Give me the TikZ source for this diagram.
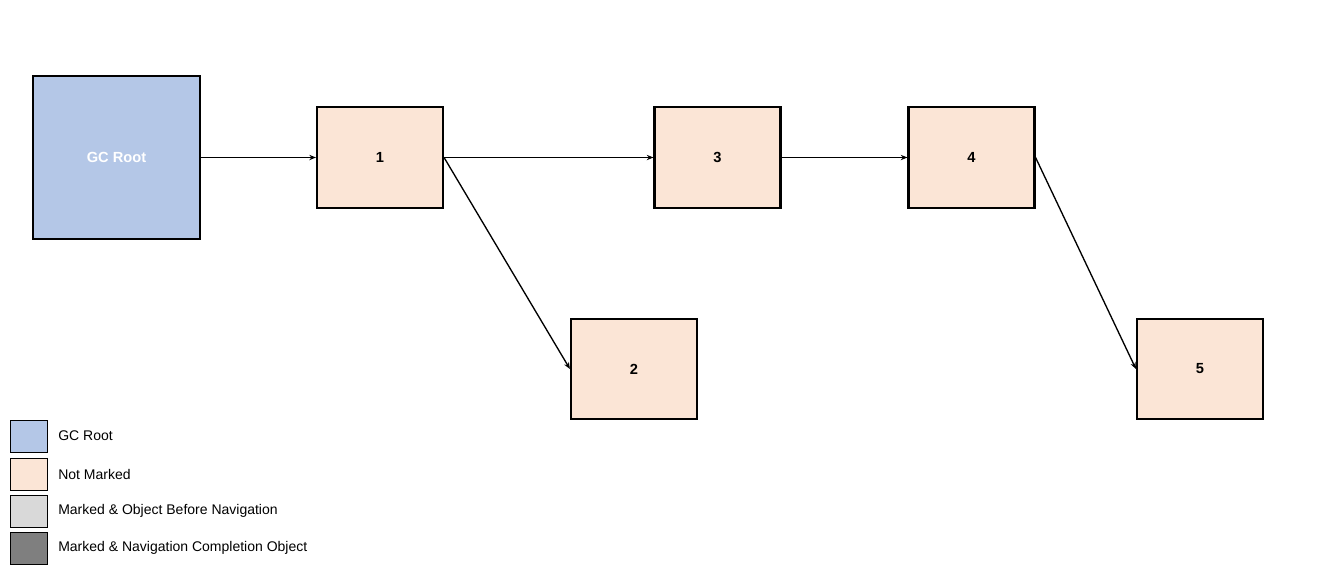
\documentclass[tikz,border=0pt]{standalone}
\usepackage{fontspec}
\setmainfont{Liberation Sans}
\usetikzlibrary{arrows.meta}
\definecolor{rootblue}{HTML}{B4C7E7}
\definecolor{peach}{HTML}{FBE5D6}
\definecolor{lightgray}{HTML}{D9D9D9}
\definecolor{darkgray}{HTML}{7F7F7F}

\begin{document}
\begin{tikzpicture}[x=0.75pt,y=-0.75pt]
\useasboundingbox (0,0) rectangle (1318,576);
\begin{scope}[every node/.style={draw,line width=1.6pt,fill=peach,minimum width=94.5pt,minimum height=75.5pt,inner sep=0pt,font=\bfseries\fontsize{11}{13}\selectfont}]
	%the objects
    \node[fill=rootblue,text=white,minimum width=125pt,minimum height=122pt] (root) at (116.5,157.5) {GC Root};
    \node (1) at (380,157.5) {1};
    \node (3) at (717.5,157.5) {3};
    \node (4) at (971.5,157.5) {4};
    \node (2) at (634,369) {2};
    \node (5) at (1200,369) {5};
\end{scope}

%references between objects
\begin{scope}[>={Stealth[black,length=5pt,width=4pt]},
              every edge/.style={draw=black,line width=1pt}]
    \path [->] (root) edge (1);
    \path [->] (1) edge (3);
    \path [->] (3) edge (4);
    \path [->] (1.east) edge (2.west);
    \path [->] (4.east) edge (5.west);
\end{scope}

%legend
\begin{scope}[every node/.style={draw,line width=0.6pt,minimum width=28pt,minimum height=24pt,inner sep=0pt}]
    \node[fill=rootblue] (lroot) at (29,436) {};
    \node[fill=peach] (lnot) at (29,474) {};
    \node[fill=lightgray] (lbefore) at (29,511) {};
    \node[fill=darkgray] (ldone) at (29,548) {};
\end{scope}
\begin{scope}[every node/.style={anchor=west,inner sep=0pt,font=\fontsize{10.5}{12}\selectfont}]
    \node at (58,436) {GC Root};
    \node at (58,474) {Not Marked};
    \node at (58,511) {Marked \& Object Before Navigation};
    \node at (58,548) {Marked \& Navigation Completion Object};
\end{scope}
\end{tikzpicture}
\end{document}
